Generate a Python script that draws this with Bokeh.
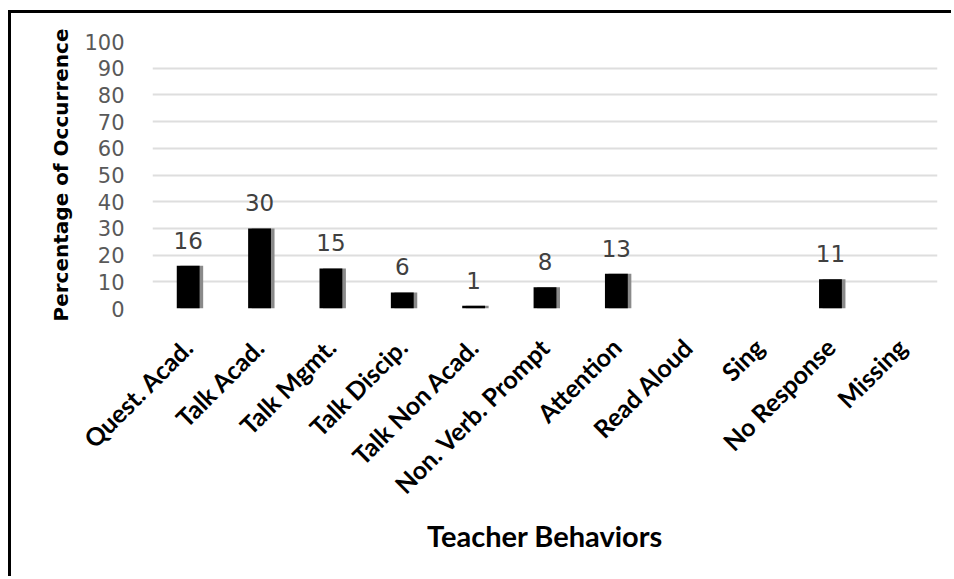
import math
from bokeh.plotting import figure
from bokeh.models import ColumnDataSource, Range1d, FactorRange, FixedTicker
from bokeh.transform import dodge
from bokeh.core.properties import value
from bokeh.embed import file_html
from bokeh.resources import INLINE

categories = ["Quest. Acad.", "Talk Acad.", "Talk Mgmt.", "Talk Discip.", "Talk Non Acad.",
              "Non. Verb. Prompt", "Attention", "Read Aloud", "Sing", "No Response", "Missing"]
percentages = [16, 30, 15, 6, 1, 8, 13, 0, 0, 11, 0]
y_ticks = list(range(0, 101, 10))

src = ColumnDataSource(dict(cat=categories, val=percentages))
lab_cats = [c for c, v in zip(categories, percentages) if v > 0]
lab_vals = [v for v in percentages if v > 0]
lab_src = ColumnDataSource(dict(cat=lab_cats, val=lab_vals, txt=[str(v) for v in lab_vals]))

p = figure(x_range=FactorRange(*categories), y_range=Range1d(0, 100),
           width=943, height=566, output_backend="svg", toolbar_location=None,
           min_border_left=141, min_border_right=17, min_border_top=28, min_border_bottom=271)
p.styles = {"border-left": "3px solid black", "border-top": "3px solid black",
            "margin-left": "8px", "margin-top": "10px"}
p.outline_line_color = None
p.background_fill_color = "white"
p.border_fill_color = "white"

p.vbar(x=dodge("cat", 0.05, range=p.x_range), top="val", width=0.32, source=src,
       fill_color="#8a8a8a", line_color=None)
p.vbar(x="cat", top="val", width=0.32, source=src, fill_color="black", line_color=None)

p.text(x="cat", y="val", text="txt", source=lab_src, text_align="center", text_baseline="bottom",
       y_offset=-17, text_font=value("DejaVu Sans"), text_font_size="23px", text_color="#404040")

p.xgrid.grid_line_color = None
p.ygrid.grid_line_color = "#dedede"
p.ygrid.grid_line_width = 2
p.yaxis.ticker = FixedTicker(ticks=y_ticks)

for ax in (p.xaxis, p.yaxis):
    ax.axis_line_color = None
    ax.major_tick_line_color = None
    ax.minor_tick_line_color = None

p.yaxis.major_label_text_font = "DejaVu Sans"
p.yaxis.major_label_text_font_size = "21px"
p.yaxis.major_label_text_color = "#595959"
p.yaxis.major_label_standoff = 22
p.yaxis.axis_label = "Percentage of Occurrence"
p.yaxis.axis_label_text_font = "DejaVu Sans"
p.yaxis.axis_label_text_font_style = "bold"
p.yaxis.axis_label_text_font_size = "20px"
p.yaxis.axis_label_text_color = "black"
p.yaxis.axis_label_standoff = 8

p.xaxis.major_label_orientation = math.pi / 4
p.xaxis.major_label_text_font = "Lato"
p.xaxis.major_label_text_font_style = "bold"
p.xaxis.major_label_text_font_size = "25px"
p.xaxis.major_label_text_color = "black"
p.xaxis.major_label_standoff = 28
p.xaxis.axis_label = "Teacher Behaviors"
p.xaxis.axis_label_text_font = "Lato"
p.xaxis.axis_label_text_font_style = "bold"
p.xaxis.axis_label_text_font_size = "29px"
p.xaxis.axis_label_text_color = "black"
p.xaxis.axis_label_standoff = 5

open("out.html", "w").write(file_html(p, INLINE))
